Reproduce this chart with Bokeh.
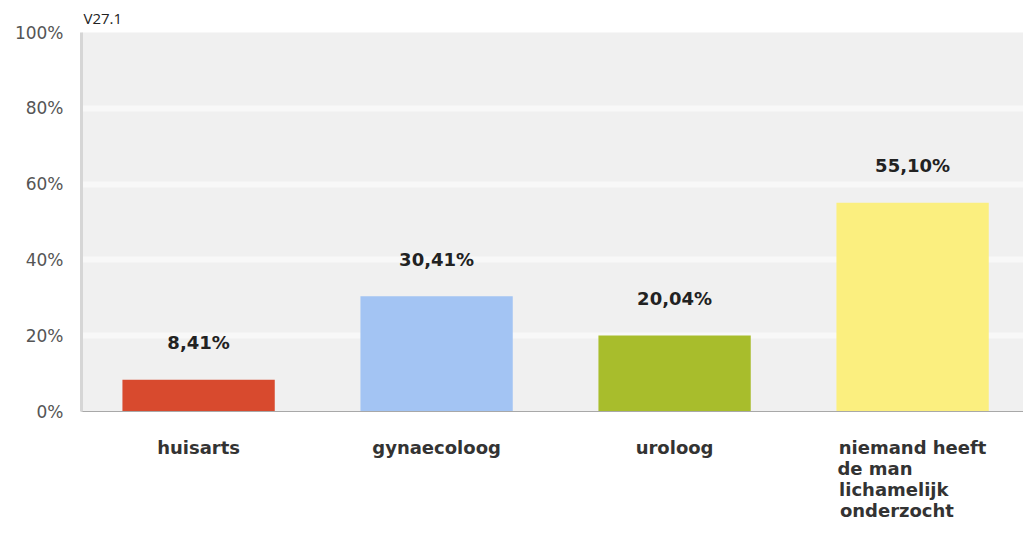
from bokeh.plotting import figure
from bokeh.models import Range1d, FixedTicker
from bokeh.embed import file_html
from bokeh.resources import INLINE
from bokeh.core.properties import value

NB = "\u00a0"
categories = ["huisarts", "gynaecoloog", "uroloog",
              "niemand heeft\nde man" + NB * 12 + "\nlichamelijk" + NB * 6 + "\nonderzocht" + NB * 5]
values = [8.41, 30.41, 20.04, 55.10]
value_labels = ["8,41%", "30,41%", "20,04%", "55,10%"]
colors = ["#d84a2e", "#a3c4f3", "#a8bd2c", "#fbef7f"]
y_ticks = [0, 20, 40, 60, 80, 100]
y_tick_labels = ["0%", "20%", "40%", "60%", "80%", "100%"]

centers = [i + 0.5 for i in range(len(categories))]
bar_w = 0.64

p = figure(width=1023, height=533, output_backend="svg", toolbar_location=None,
           x_range=Range1d(0.008, 3.966), y_range=Range1d(0, 100),
           min_border_left=81, min_border_right=0, min_border_top=32, min_border_bottom=122,
           title="V27.1")
p.title.text_font = "Open Sans"
p.title.text_font_size = "15px"
p.title.text_font_style = "normal"
p.title.text_color = "#222222"
p.title.standoff = 10
p.title.offset = 2

p.background_fill_color = "#f0f0f0"
p.border_fill_color = "white"
p.outline_line_color = None

p.vbar(x=centers, top=values, width=bar_w, color=colors, line_color=None)

px_per_unit = 3.79
p.text(x=centers, y=[v + 37 / px_per_unit for v in values], text=value_labels,
       text_font=value("DejaVu Sans"), text_font_style="bold", text_font_size="18px",
       text_color="#222222", text_align="center", text_baseline="middle")

p.yaxis.ticker = FixedTicker(ticks=y_ticks)
p.yaxis.major_label_overrides = {t: l for t, l in zip(y_ticks, y_tick_labels)}
p.yaxis.major_label_text_font = "DejaVu Sans"
p.yaxis.major_label_text_font_size = "17px"
p.yaxis.major_label_text_color = "#555555"
p.yaxis.major_tick_line_color = None
p.yaxis.minor_tick_line_color = None
p.yaxis.axis_line_color = "#d6d6d6"
p.yaxis.axis_line_width = 3
p.yaxis.major_label_standoff = 12

p.xaxis.ticker = FixedTicker(ticks=centers)
p.xaxis.major_label_overrides = {c: l for c, l in zip(centers, categories)}
p.xaxis.major_label_text_font = "DejaVu Sans"
p.xaxis.major_label_text_font_style = "bold"
p.xaxis.major_label_text_font_size = "18px"
p.xaxis.major_label_text_color = "#333333"
p.xaxis.major_label_text_line_height = 1.0
p.xaxis.major_label_standoff = 19
p.xaxis.major_tick_line_color = None
p.xaxis.minor_tick_line_color = None
p.xaxis.axis_line_color = "#a8a8a8"

p.xgrid.grid_line_color = None
p.ygrid.ticker = FixedTicker(ticks=y_ticks[1:-1])
p.ygrid.grid_line_color = "#f8f8f8"
p.ygrid.grid_line_width = 6

open("out.html", "w").write(file_html(p, INLINE))
